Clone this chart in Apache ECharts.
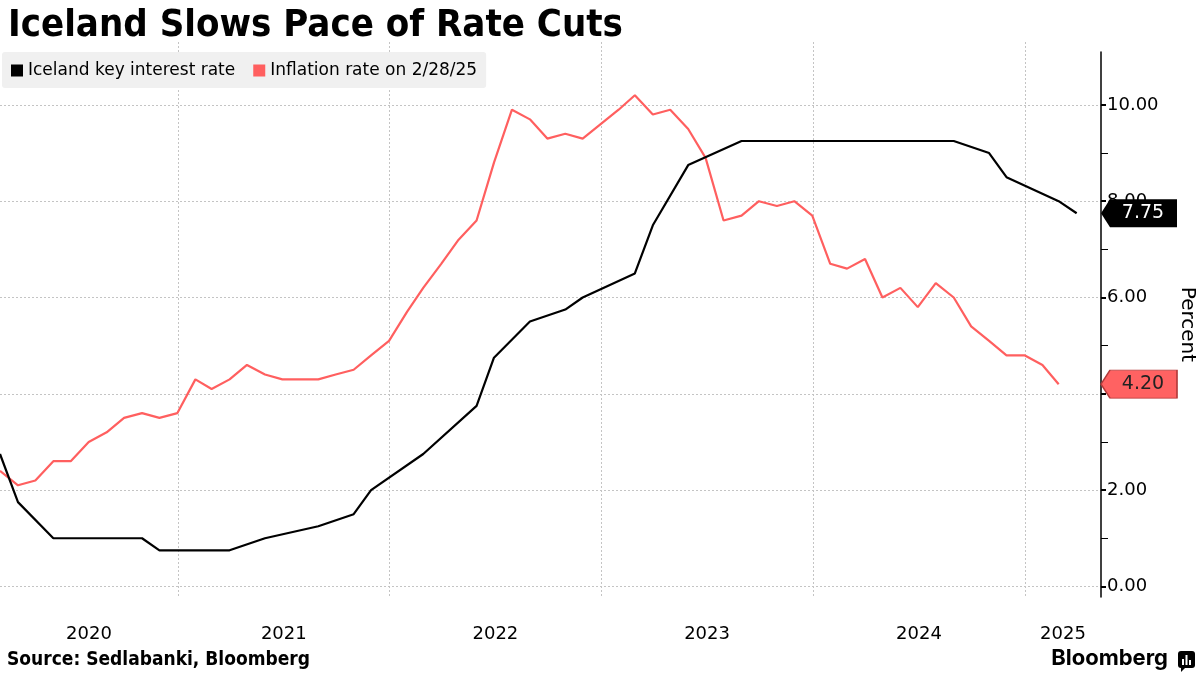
<!DOCTYPE html>
<html><head><meta charset="utf-8">
<script src="https://cdn.jsdelivr.net/npm/echarts@6/dist/echarts.min.js"></script>
<style>html,body{margin:0;padding:0;background:#fff}#c{width:1200px;height:675px}</style>
</head><body><div id="c"></div>
<script>
// ---------- DATA ----------
const chartTitle = 'Iceland Slows Pace of Rate Cuts';
const sourceText = 'Source: Sedlabanki, Bloomberg';
const seriesNames = ['Iceland key interest rate', 'Inflation rate on 2/28/25'];

const rateDates = ['2020-02-29','2020-03-31','2020-05-31','2020-10-31','2020-11-30',
  '2021-03-31','2021-05-31','2021-08-31','2021-10-31','2021-11-30',
  '2022-02-28','2022-05-31','2022-06-30','2022-08-31','2022-10-31','2022-11-30',
  '2023-02-28','2023-03-31','2023-05-31','2023-08-31',
  '2024-08-31','2024-10-31','2024-11-30','2025-02-28','2025-03-31'];
const rateValues = [2.75,1.75,1.00,1.00,0.75,
  0.75,1.00,1.25,1.50,2.00,
  2.75,3.75,4.75,5.50,5.75,6.00,
  6.50,7.50,8.75,9.25,
  9.25,9.00,8.50,8.00,7.75];

const inflationMonths = ['2020-02','2020-03','2020-04','2020-05','2020-06','2020-07','2020-08','2020-09','2020-10','2020-11','2020-12',
  '2021-01','2021-02','2021-03','2021-04','2021-05','2021-06','2021-07','2021-08','2021-09','2021-10','2021-11','2021-12',
  '2022-01','2022-02','2022-03','2022-04','2022-05','2022-06','2022-07','2022-08','2022-09','2022-10','2022-11','2022-12',
  '2023-01','2023-02','2023-03','2023-04','2023-05','2023-06','2023-07','2023-08','2023-09','2023-10','2023-11','2023-12',
  '2024-01','2024-02','2024-03','2024-04','2024-05','2024-06','2024-07','2024-08','2024-09','2024-10','2024-11','2024-12',
  '2025-01','2025-02'];
const inflationValues = [2.4,2.1,2.2,2.6,2.6,3.0,3.2,3.5,3.6,3.5,3.6,
  4.3,4.1,4.3,4.6,4.4,4.3,4.3,4.3,4.4,4.5,4.8,5.1,
  5.7,6.2,6.7,7.2,7.6,8.8,9.9,9.7,9.3,9.4,9.3,9.6,
  9.9,10.2,9.8,9.9,9.5,8.9,7.6,7.7,8.0,7.9,8.0,7.7,
  6.7,6.6,6.8,6.0,6.2,5.8,6.3,6.0,5.4,5.1,4.8,4.8,
  4.6,4.2];

const yTickValues = [0,2,4,6,8,10];
const yearLabels = [2020,2021,2022,2023,2024,2025];
const xMinDate = '2020-02-29';
const xMaxDate = '2025-05-12';

// ---------- helpers ----------
function pad(n){return (n<10?'0':'')+n;}
function monthEnd(ym){const p=ym.split('-').map(Number);const d=new Date(p[0],p[1],0);return p[0]+'-'+pad(p[1])+'-'+pad(d.getDate());}
function ts(s){const p=s.split('-').map(Number);return new Date(p[0],p[1]-1,p[2]).getTime();}

const rateData = rateDates.map((d,i)=>[ts(d), rateValues[i]]);
const inflData = inflationMonths.map((m,i)=>[ts(monthEnd(m)), inflationValues[i]]);

const xMin = ts(xMinDate), xMax = ts(xMaxDate);
const yearStarts = yearLabels.slice(1).map(y=>new Date(y,0,1).getTime());
const yearMids = yearLabels.map(y=>{
  const s=Math.max(new Date(y,0,1).getTime(), xMin);
  const e=Math.min(new Date(y+1,0,1).getTime(), xMax);
  return (s+e)/2;
});

// ---------- layout ----------
const H = 675;
const gridRight = 99;
const dataTop = 42, plotBottomPx = 597;
const axisTop = 52;
const yMin = -0.22;
const pxPerUnit = 48.15;
const yMax = yMin + (plotBottomPx - dataTop) / pxPerUnit;
const py = v => plotBottomPx - (v - yMin) * pxPerUnit;
const tickGridTop = py(yTickValues[yTickValues.length-1]);
const tickGridBottom = H - py(yTickValues[0]);

const RED = '#ff5f5f';
const FONT = 'DejaVu Sans';
const COND = '"DejaVu Sans Condensed","Liberation Sans Narrow","DejaVu Sans"';
const gridBase = {left: 0, right: gridRight, containLabel: false, outerBoundsMode: 'none'};

const chart = echarts.init(document.getElementById('c'));
chart.setOption({
  animation: false,
  backgroundColor: '#fff',
  title: {
    text: chartTitle, left: 3, top: 2,
    textStyle: {fontSize: 38, fontWeight: 'bold', color: '#000', fontFamily: COND}
  },
  legend: {
    left: 2, top: 52,
    data: seriesNames,
    backgroundColor: '#f0f0f0', borderRadius: 3,
    padding: [10, 9, 9, 9],
    itemWidth: 12, itemHeight: 12, itemGap: 18, icon: 'rect',
    textStyle: {fontSize: 17, color: '#000', fontFamily: FONT}
  },
  grid: [
    Object.assign({}, gridBase, {top: dataTop, bottom: H - plotBottomPx}),
    Object.assign({}, gridBase, {top: tickGridTop, bottom: tickGridBottom}),
    Object.assign({}, gridBase, {top: axisTop, bottom: H - plotBottomPx})
  ],
  xAxis: [
    {
      type: 'value', gridIndex: 0, min: xMin, max: xMax, scale: true,
      axisLine: {show: false, onZero: false},
      axisTick: {show: false, customValues: yearStarts},
      splitLine: {show: true, lineStyle: {color: '#c4c4c4', type: [2, 2], width: 1}},
      axisLabel: {
        customValues: yearMids, margin: 28,
        formatter: v => String(new Date(v).getFullYear()),
        fontSize: 18, color: '#000', fontFamily: FONT
      }
    },
    {type: 'value', gridIndex: 1, show: false, min: 0, max: 1, axisLine: {onZero: false}},
    {type: 'value', gridIndex: 2, show: false, min: 0, max: 1, axisLine: {onZero: false}}
  ],
  yAxis: [
    {
      type: 'value', gridIndex: 0, min: yMin, max: yMax, position: 'right',
      axisLine: {show: false, onZero: false}, axisTick: {show: false}, axisLabel: {show: false}, splitLine: {show: false}
    },
    {
      type: 'value', gridIndex: 1, min: yTickValues[0], max: yTickValues[yTickValues.length-1], interval: 2,
      position: 'right',
      axisLine: {show: false, onZero: false},
      axisTick: {show: true, length: 5, lineStyle: {color: '#000', width: 2}},
      minorTick: {show: true, splitNumber: 2, length: 7, lineStyle: {color: '#000', width: 1}},
      axisLabel: {formatter: v => v.toFixed(2), fontSize: 18, color: '#000', margin: 6, fontFamily: FONT},
      splitLine: {show: true, lineStyle: {color: '#c4c4c4', type: [2, 2], width: 1}}
    },
    {
      type: 'value', gridIndex: 2, min: 0, max: 1, position: 'right',
      axisLine: {show: true, onZero: false, lineStyle: {color: '#000', width: 1.5}},
      axisTick: {show: false}, axisLabel: {show: false}, splitLine: {show: false},
      name: 'Percent', nameLocation: 'middle', nameRotate: -90, nameGap: 76,
      nameTextStyle: {fontSize: 20, color: '#000', fontFamily: FONT}
    }
  ],
  series: [
    {
      name: seriesNames[1], type: 'line', xAxisIndex: 0, yAxisIndex: 0,
      data: inflData, showSymbol: false, symbol: 'none',
      lineStyle: {color: RED, width: 2.2}, itemStyle: {color: RED},
      markPoint: {
        symbol: 'path://M0,14 L9,0 L76,0 L76,28 L9,28 Z',
        symbolSize: [76, 28], symbolOffset: [38, 0], symbolKeepAspect: false,
        itemStyle: {color: '#ff6262', borderColor: '#b23a3a', borderWidth: 1},
        label: {show: true, position: 'inside', offset: [4, 0], fontSize: 19, color: '#222', fontFamily: FONT,
          formatter: p => Number(p.value).toFixed(2)},
        data: [{coord: [xMax, inflationValues[inflationValues.length-1]], value: inflationValues[inflationValues.length-1]}]
      }
    },
    {
      name: seriesNames[0], type: 'line', xAxisIndex: 0, yAxisIndex: 0,
      data: rateData, showSymbol: false, symbol: 'none',
      lineStyle: {color: '#000', width: 2.2}, itemStyle: {color: '#000'},
      markPoint: {
        symbol: 'path://M0,14 L9,0 L76,0 L76,28 L9,28 Z',
        symbolSize: [76, 28], symbolOffset: [38, 0], symbolKeepAspect: false,
        itemStyle: {color: '#000'},
        label: {show: true, position: 'inside', offset: [4, 0], fontSize: 19, color: '#fff', fontFamily: FONT,
          formatter: p => Number(p.value).toFixed(2)},
        data: [{coord: [xMax, rateValues[rateValues.length-1]], value: rateValues[rateValues.length-1]}]
      }
    }
  ],
  graphic: [
    {type: 'text', left: 7, top: 651,
      style: {text: sourceText, fontSize: 19, fontWeight: 'bold', fontFamily: COND, fill: '#000'}},
    {type: 'text', right: 32, top: 647,
      style: {text: 'Bloomberg', fontSize: 22, fontWeight: 'bold', fontFamily: 'Inter', fill: '#000'}},
    {type: 'group', left: 1178, top: 651, children: [
      {type: 'rect', shape: {x: 0, y: 0, width: 17, height: 17, r: 3}, style: {fill: '#000'}},
      {type: 'polygon', shape: {points: [[3, 16], [3, 21], [8, 16]]}, style: {fill: '#000'}},
      {type: 'rect', shape: {x: 4, y: 8, width: 2, height: 6}, style: {fill: '#fff'}},
      {type: 'rect', shape: {x: 7.5, y: 4, width: 2, height: 10}, style: {fill: '#fff'}},
      {type: 'rect', shape: {x: 11, y: 9, width: 2, height: 5}, style: {fill: '#fff'}}
    ]}
  ]
});
</script></body></html>
